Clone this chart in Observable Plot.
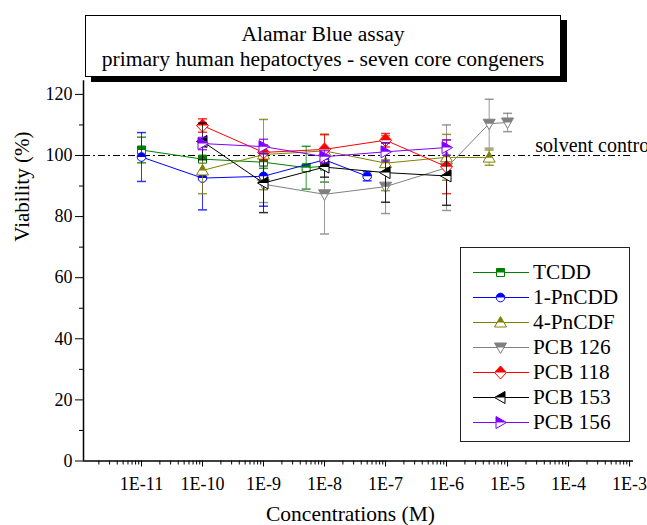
<!DOCTYPE html>
<html><head><meta charset="utf-8">
<script src="https://cdn.jsdelivr.net/npm/d3@7"></script>
<script src="https://cdn.jsdelivr.net/npm/@observablehq/plot@0.6"></script>
<style>
body{margin:0;background:#fff;}
#wrap{position:relative;width:647px;height:525px;overflow:hidden;font-family:"Liberation Serif","Times New Roman",serif;color:#000;}
#chart{position:absolute;left:0;top:0;}
#title{position:absolute;left:85px;top:15px;width:476px;height:62px;border:1px solid #000;box-shadow:6px 5px 0 #000;background:#fff;text-align:center;font-size:21.6px;line-height:25px;padding-top:6px;box-sizing:border-box;}
#legend{position:absolute;left:460px;top:247px;width:170px;height:195px;border:1px solid #222;background:#fff;box-sizing:border-box;}
.row{position:absolute;left:0;height:25px;width:168px;}
.row svg{position:absolute;left:12px;top:0;}
.row span{position:absolute;left:72px;top:0;font-size:21.3px;line-height:25px;white-space:nowrap;}
</style></head>
<body>
<div id="wrap">
  <div id="chart"></div>
  <div id="title">Alamar Blue assay<br>primary human hepatoctyes - seven core congeners</div>
  <div id="legend"></div>
</div>
<script>
// ---- data ----
const seriesNames = ["TCDD", "1-PnCDD", "4-PnCDF", "PCB 126", "PCB 118", "PCB 153", "PCB 156"];

const concTCDD = [1e-11, 1e-10, 1e-9, 5e-9, 1e-8];
const viabTCDD = [101.8, 98.8, 97.8, 96.0, 96.5];
const errTCDD  = [4.2, 6.5, 2.0, 7.0, 5.2];

const concPnCDD = [1e-11, 1e-10, 1e-9, 1e-8, 5e-8];
const viabPnCDD = [99.5, 92.6, 93.2, 98.6, 93.2];
const errPnCDD  = [8.0, 10.4, 9.8, 2.0, 1.5];

const concPnCDF = [1e-10, 1e-9, 1e-8, 1e-7, 1e-6, 5e-6];
const viabPnCDF = [95.1, 100.3, 101.5, 97.5, 99.4, 99.3];
const errPnCDF  = [7.6, 11.5, 5.5, 9.0, 7.5, 2.5];

const conc126 = [1e-9, 1e-8, 1e-7, 1e-6, 5e-6, 1e-5];
const viab126 = [90.6, 87.3, 89.8, 96.0, 110.4, 110.8];
const err126  = [6.0, 13.0, 8.8, 14.0, 8.0, 3.0];

const conc118 = [1e-10, 1e-9, 1e-8, 1e-7, 1e-6];
const viab118 = [109.8, 101.0, 102.0, 105.0, 96.3];
const err118  = [2.2, 2.5, 4.8, 2.2, 8.8];

const conc153 = [1e-10, 1e-9, 1e-8, 1e-7, 1e-6];
const viab153 = [104.6, 91.0, 96.2, 94.4, 93.3];
const err153  = [6.0, 9.7, 3.3, 9.7, 9.6];

const conc156 = [1e-10, 1e-9, 1e-8, 1e-7, 1e-6];
const viab156 = [103.9, 102.9, 99.6, 101.2, 102.6];
const err156  = [2.0, 2.4, 2.0, 3.0, 2.5];

const seriesConc = [concTCDD, concPnCDD, concPnCDF, conc126, conc118, conc153, conc156];
const seriesViab = [viabTCDD, viabPnCDD, viabPnCDF, viab126, viab118, viab153, viab156];
const seriesErr  = [errTCDD, errPnCDD, errPnCDF, err126, err118, err153, err156];

const majorTicks = [1e-11, 1e-10, 1e-9, 1e-8, 1e-7, 1e-6, 1e-5, 1e-4, 1e-3];
const xTickLabels = ["1E-11", "1E-10", "1E-9", "1E-8", "1E-7", "1E-6", "1E-5", "1E-4", "1E-3"];
const yTicks = [0, 20, 40, 60, 80, 100, 120];
const yMinorTicks = [10, 30, 50, 70, 90, 110];

// ---- styles ----
const colors = ["#008000", "#0000ff", "#808000", "#808080", "#ff0000", "#000000", "#8000ff"];
const shapeKeys = ["square", "circle", "triUp", "triDown", "diamond", "triLeft", "triRight"];

function poly(c, pts) { c.moveTo(pts[0][0], pts[0][1]); for (let i = 1; i < pts.length; i++) c.lineTo(pts[i][0], pts[i][1]); c.closePath(); }
const shapes = {
  square:  {full: (c, s) => c.rect(-4*s, -4*s, 8*s, 8*s), half: (c, s) => c.rect(-4*s, -4*s, 8*s, 4*s)},
  circle:  {full: (c, s) => { c.moveTo(4.3*s, 0); c.arc(0, 0, 4.3*s, 0, 2*Math.PI); },
            half: (c, s) => { c.moveTo(-4.3*s, 0); c.arc(0, 0, 4.3*s, Math.PI, 2*Math.PI); c.closePath(); }},
  triUp:   {full: (c, s) => poly(c, [[0,-6*s],[6*s,4.5*s],[-6*s,4.5*s]]),
            half: (c, s) => poly(c, [[0,-6*s],[3.43*s,0],[-3.43*s,0]])},
  triDown: {full: (c, s) => poly(c, [[-6*s,-4.5*s],[6*s,-4.5*s],[0,6*s]]),
            half: (c, s) => poly(c, [[-6*s,-4.5*s],[6*s,-4.5*s],[3.43*s,0],[-3.43*s,0]])},
  diamond: {full: (c, s) => poly(c, [[0,-6.5*s],[6*s,0],[0,6.5*s],[-6*s,0]]),
            half: (c, s) => poly(c, [[0,-6.5*s],[6*s,0],[-6*s,0]])},
  triLeft: {full: (c, s) => poly(c, [[-6*s,0],[4.5*s,-6*s],[4.5*s,6*s]]),
            half: (c, s) => poly(c, [[-6*s,0],[4.5*s,-6*s],[4.5*s,0]])},
  triRight:{full: (c, s) => poly(c, [[6*s,0],[-4.5*s,-6*s],[-4.5*s,6*s]]),
            half: (c, s) => poly(c, [[6*s,0],[-4.5*s,-6*s],[-4.5*s,0]])}
};
function sym(fn) { return {draw(ctx, size) { const r = Math.sqrt(size / Math.PI); fn(ctx, r / 4.5); }}; }
const capSymbol = {draw(ctx, size) { const r = Math.sqrt(size / Math.PI); ctx.moveTo(-r, 0); ctx.lineTo(r, 0); }};

const xDomain = [1.12e-12, 1.16e-3];

const marks = [
  Plot.ruleY([100], {stroke: "#000", strokeWidth: 1, strokeDasharray: "7,3,2,3"}),
  Plot.text(["solvent control"], {x: 2.85e-5, y: 100, text: d => d, textAnchor: "start", lineAnchor: "bottom", dy: -3, fontSize: 20})
];

seriesNames.forEach((name, i) => {
  const rows = seriesConc[i].map((c, j) => ({name, conc: c, v: seriesViab[i][j], e: seriesErr[i][j]}));
  const col = colors[i];
  const sh = shapes[shapeKeys[i]];
  marks.push(
    Plot.ruleX(rows, {x: "conc", y1: d => d.v - d.e, y2: d => d.v + d.e, stroke: col, strokeOpacity: 0.8}),
    Plot.dot(rows, {x: "conc", y: d => d.v - d.e, symbol: capSymbol, r: 4.5, stroke: col, fill: "none", strokeOpacity: 0.8}),
    Plot.dot(rows, {x: "conc", y: d => d.v + d.e, symbol: capSymbol, r: 4.5, stroke: col, fill: "none", strokeOpacity: 0.8}),
    Plot.line(rows, {x: "conc", y: "v", stroke: col, strokeWidth: 1}),
    Plot.dot(rows, {x: "conc", y: "v", symbol: sym(sh.full), r: 4.5, fill: "white", stroke: col, strokeWidth: 1}),
    Plot.dot(rows, {x: "conc", y: "v", symbol: sym(sh.half), r: 4.5, fill: col, stroke: "none"})
  );
});

const minorX = [];
for (let e = -12; e < -2; e++) for (let k = 2; k <= 9; k++) minorX.push(k * Math.pow(10, e));

marks.push(
  Plot.axisX({ticks: majorTicks, tickFormat: d => xTickLabels[majorTicks.indexOf(d)], tickSize: 6, tickPadding: 10, label: null, fontSize: 18}),
  Plot.axisX({ticks: minorX.filter(v => v > xDomain[0] && v < xDomain[1]), tickFormat: () => "", tickSize: 4, label: null}),
  Plot.axisY({ticks: yTicks, tickSize: 8, tickPadding: 3, label: null, fontSize: 18}),
  Plot.axisY({ticks: yMinorTicks, tickSize: 4, tickFormat: () => "", label: null}),
  Plot.ruleY([0], {stroke: "#000", strokeWidth: 1.5}),
  Plot.ruleX([xDomain[0]], {y1: 0, y2: 124.5, stroke: "#000", strokeWidth: 1.5}),
  Plot.text(["Viability (%)"], {frameAnchor: "left", text: d => d, rotate: -90, dx: -61, dy: -28, fontSize: 21}),
  Plot.text(["Concentrations (M)"], {frameAnchor: "bottom", text: d => d, dx: -8, dy: 60, fontSize: 21.5})
);

const chart = Plot.plot({
  width: 647, height: 525,
  marginLeft: 83, marginRight: 14, marginTop: 78, marginBottom: 64.5,
  x: {type: "log", domain: xDomain},
  y: {domain: [0, 125.2]},
  style: {fontFamily: "'Liberation Serif', 'Times New Roman', serif", fontSize: "18px", color: "#000", background: "transparent", overflow: "visible"},
  marks
});
document.getElementById("chart").appendChild(chart);

// ---- legend ----
const legend = d3.select("#legend");
seriesNames.forEach((name, i) => {
  const row = legend.append("div").attr("class", "row").style("top", (11.7 + 25 * i) + "px");
  const svg = row.append("svg").attr("width", 58).attr("height", 25);
  svg.append("line").attr("x1", 0).attr("x2", 56).attr("y1", 12.5).attr("y2", 12.5).attr("stroke", colors[i]);
  const sh = shapes[shapeKeys[i]];
  const p1 = d3.path(); sh.full(p1, 1);
  svg.append("path").attr("d", p1.toString()).attr("transform", "translate(27.5,12.5)").attr("fill", "white").attr("stroke", colors[i]);
  const p2 = d3.path(); sh.half(p2, 1);
  svg.append("path").attr("d", p2.toString()).attr("transform", "translate(27.5,12.5)").attr("fill", colors[i]);
  row.append("span").text(name);
});
</script>
</body></html>
